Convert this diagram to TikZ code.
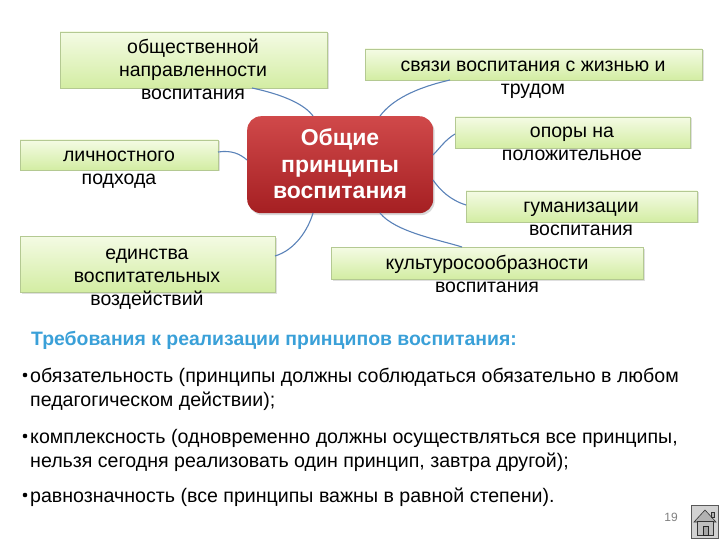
\documentclass[tikz,border=0pt]{standalone}
\usepackage{fontspec}
\setmainfont{Liberation Sans}
\usetikzlibrary{shadows}
\definecolor{boxtop}{HTML}{F4FBE4}
\definecolor{boxbot}{HTML}{D3EDA3}
\definecolor{boxline}{HTML}{B4C992}
\definecolor{redtop}{HTML}{D0494A}
\definecolor{redbot}{HTML}{A51F22}
\definecolor{conn}{HTML}{5A82B8}
\definecolor{headblue}{HTML}{3AA0D8}
\tikzset{
  pbox/.style={draw=boxline, line width=0.8pt, top color=boxtop, bottom color=boxbot,
    drop shadow={shadow xshift=1.5pt, shadow yshift=-1.5pt, opacity=0.25}},
  ptext/.style={align=center, font=\fontsize{19.5}{23}\selectfont, text=black, inner sep=0pt, anchor=base},
  link/.style={draw=conn, line width=1.1pt},
  bodytext/.style={font=\fontsize{19.6}{24}\selectfont, anchor=base west, inner sep=0pt, text=black}
}
\begin{document}
\begin{tikzpicture}[x=1pt,y=-1pt]
\useasboundingbox (0,0) rectangle (720,540);
% boxes
\path[pbox] (60,32) rectangle (327,88);
\coordinate (b1) at (252,88);
\path[pbox] (365,49) rectangle (702,80);
\coordinate (b2) at (450,80);
\path[pbox] (20,140) rectangle (218,170);
\coordinate (b3) at (218,152);
\path[pbox] (455,117) rectangle (690,148);
\coordinate (b4) at (455,134);
\path[pbox] (466,191) rectangle (697,222);
\coordinate (b5) at (466,205);
\path[pbox] (20,236) rectangle (275,292);
\coordinate (b6) at (275,256);
\path[pbox] (331,247) rectangle (643,279);
\coordinate (b7) at (462,247);
% central
\node[draw=none, rounded corners=14pt, top color=redtop, bottom color=redbot,
  minimum width=186pt, minimum height=97pt, anchor=north west,
  drop shadow={shadow xshift=1.5pt, shadow yshift=-2pt, opacity=0.3}] (c) at (247,116) {};
\node[align=center, text=white, anchor=base, inner sep=0pt, font=\bfseries\fontsize{23}{26.5}\selectfont] (ct) at (340,199) {Общие\\принципы\\воспитания};
% connectors
\draw[link] (b1) .. controls (285,95) and (305,105) .. (313,116);
\draw[link] (b2) .. controls (415,88) and (392,100) .. (380,116);
\draw[link] (b3) .. controls (232,150) and (240,154) .. (247,160);
\draw[link] (b4) .. controls (445,140) and (440,148) .. (433,155);
\draw[link] (b5) .. controls (450,200) and (440,190) .. (433,180);
\draw[link] (b6) .. controls (295,250) and (308,230) .. (313,213);
\draw[link] (b7) .. controls (440,240) and (395,232) .. (380,213);
% texts (anchor = baseline of the last line)
\node[ptext] (t1) at (193,100) {общественной\\направленности\\воспитания};
\node[ptext] (t2) at (533,95) {связи воспитания с жизнью и\\трудом};
\node[ptext] (t3) at (119,185) {личностного\\подхода};
\node[ptext] (t4) at (572,161) {опоры на\\положительное};
\node[ptext] (t5) at (581,236) {гуманизации\\воспитания};
\node[ptext] (t6) at (147,305) {единства\\воспитательных\\воздействий};
\node[ptext] (t7) at (487,292) {культуросообразности\\воспитания};
% bottom text
\node[anchor=base west, inner sep=0pt, text=headblue, font=\bfseries\fontsize{19.4}{22}\selectfont] (h) at (31,345) {Требования к реализации принципов воспитания:};
\node[bodytext] (l1) at (30,382) {обязательность (принципы должны соблюдаться обязательно в любом};
\node[bodytext] (l1b) at (30,406) {педагогическом действии);};
\node[bodytext] (l2) at (30,443) {комплексность (одновременно должны осуществляться все принципы,};
\node[bodytext] (l2b) at (30,467) {нельзя сегодня реализовать один принцип, завтра другой);};
\node[bodytext] (l3) at (30,502) {равнозначность (все принципы важны в равной степени).};
\foreach \y in {375,436,495} \fill (25,\y) circle (2.3pt);
% page number and home icon
\node[anchor=base, text=gray, inner sep=0pt, font=\fontsize{12}{13}\selectfont] (pn) at (671,521) {19};
\node[draw=gray!70!black, fill=gray!35, minimum width=27pt, minimum height=33pt, anchor=north west, inner sep=0pt, line width=0.8pt] (home) at (691,505) {};
\draw[fill=gray!60, draw=gray!40!black, line width=0.6pt] (694,522) -- (705,510) -- (716,522) -- cycle;
\draw[fill=gray!50, draw=gray!40!black, line width=0.6pt] (697,521) rectangle (713,535);
\draw[fill=gray!70, draw=gray!30!black, line width=0.5pt] (703,526) rectangle (708,535);
\draw[fill=gray!60, draw=gray!40!black, line width=0.5pt] (711,512) rectangle (714,517);
\end{tikzpicture}
\end{document}
